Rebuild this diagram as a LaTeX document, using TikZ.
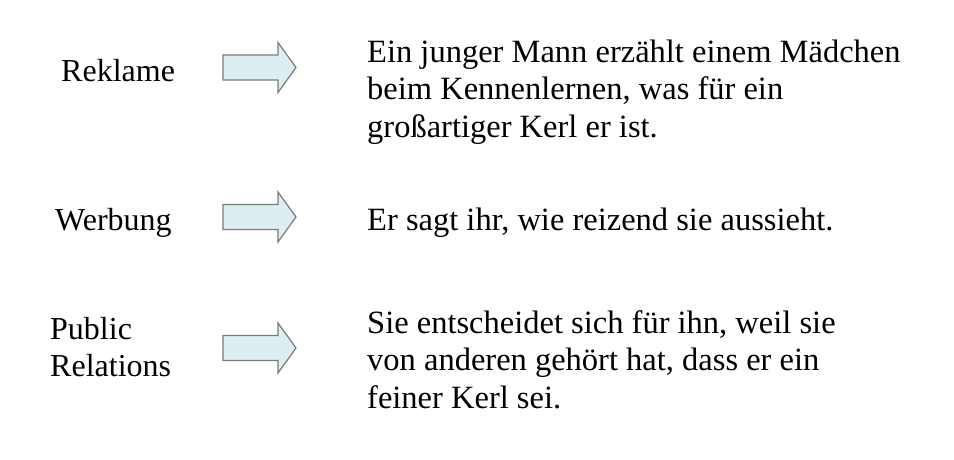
\documentclass[tikz,border=0pt]{standalone}
\usepackage{fontspec}
\setmainfont{Liberation Serif}
\definecolor{arrowfill}{HTML}{DCEEF2}
\definecolor{arrowline}{HTML}{7A7A7A}
\tikzset{
  txt/.style={anchor=base west, inner sep=0pt, font=\fontsize{32}{37.5}\selectfont},
  rtxt/.style={txt, font=\fontsize{32.5}{37.5}\selectfont},
  arrowshape/.style={draw=arrowline, fill=arrowfill, line width=1.2pt, line join=miter},
}
\newcommand\blockarrow[1]{%
  \draw[arrowshape] (223,#1-12.5) -- (278,#1-12.5) -- (278,#1-25) -- (296,#1) -- (278,#1+25) -- (278,#1+12.5) -- (223,#1+12.5) -- cycle;}
\newcommand\stack[1]{\vtop{\baselineskip=37.5pt\halign{##\hfil\cr#1\crcr}}}
\begin{document}
\begin{tikzpicture}[x=1pt,y=-1pt]
\useasboundingbox (0,0) rectangle (954,459);
% left labels
\node[txt] (reklame) at (61,81.7) {Reklame};
\node[txt] (werbung) at (55,230.5) {Werbung};
\node[txt] (pr) at (50,339) {\stack{Public\cr Relations}};
% arrows
\blockarrow{67.5}
\blockarrow{217}
\blockarrow{348}
% right texts
\node[rtxt] (t1) at (367,62) {\stack{Ein junger Mann erzählt einem Mädchen\cr beim Kennenlernen, was für ein\cr großartiger Kerl er ist.}};
\node[rtxt] (t2) at (367,230) {Er sagt ihr, wie reizend sie aussieht.};
\node[rtxt] (t3) at (367,333) {\stack{Sie entscheidet sich für ihn, weil sie\cr von anderen gehört hat, dass er ein\cr feiner Kerl sei.}};
\end{tikzpicture}
\end{document}
